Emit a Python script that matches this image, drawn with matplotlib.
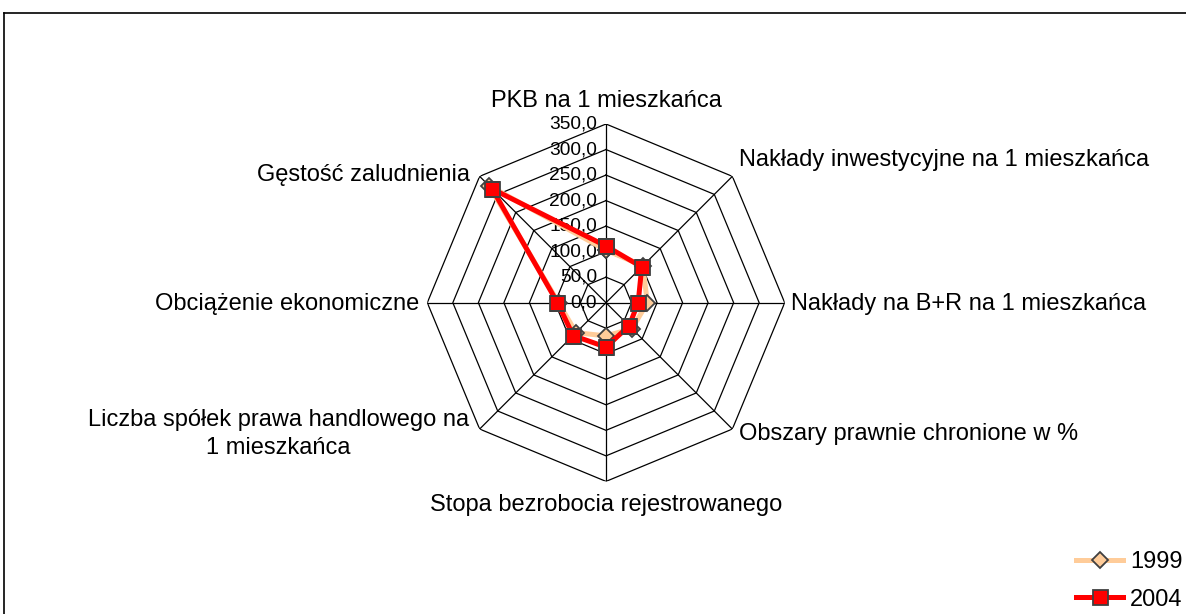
import numpy as np
import matplotlib
matplotlib.use("Agg")
import matplotlib.pyplot as plt
from matplotlib.lines import Line2D

plt.rcParams['font.family'] = ['Liberation Sans', 'DejaVu Sans']

categories = [
    "PKB na 1 mieszkańca",
    "Nakłady inwestycyjne na 1 mieszkańca",
    "Nakłady na B+R na 1 mieszkańca",
    "Obszary prawnie chronione w %",
    "Stopa bezrobocia rejestrowanego",
    "Liczba spółek prawa handlowego na\n1 mieszkańca",
    "Obciążenie ekonomiczne",
    "Gęstość zaludnienia",
]
v1999 = [103, 102, 81, 72, 65, 83, 93, 324]
v2004 = [111, 99, 63, 64, 87, 91, 95, 315]
rticks = [0, 50, 100, 150, 200, 250, 300, 350]
rtick_labels = ["0,0", "50,0", "100,0", "150,0", "200,0", "250,0", "300,0", "350,0"]

W, H = 1186, 614
fig = plt.figure(figsize=(W / 100, H / 100), dpi=100)
fig.patch.set_facecolor('white')

# outer frame (top and left edges visible)
fig.add_artist(Line2D([3.5 / W, 1.0], [1 - 12.5 / H, 1 - 12.5 / H], color='black', lw=1.2,
                      transform=fig.transFigure))
fig.add_artist(Line2D([3.5 / W, 3.5 / W], [0, 1 - 12.5 / H], color='black', lw=1.2,
                      transform=fig.transFigure))

cx, cy, R = 606, 302.7, 178.7
ax = fig.add_axes([(cx - R) / W, (H - cy - R) / H, 2 * R / W, 2 * R / H], projection='polar')
ax.set_theta_offset(np.pi / 2)
ax.set_theta_direction(-1)
ax.set_ylim(0, 350)
ax.grid(False)
ax.spines['polar'].set_visible(False)
ax.set_xticks([])
ax.set_yticks([])
ax.patch.set_alpha(0)

n = len(categories)
ang = np.linspace(0, 2 * np.pi, n, endpoint=False)
ang_c = np.concatenate([ang, ang[:1]])

for r in rticks[1:]:
    ax.plot(ang_c, [r] * (n + 1), color='black', lw=0.9, zorder=1)
for a in ang:
    ax.plot([a, a], [0, 350], color='black', lw=0.9, zorder=1)

for r, lab in zip(rticks, rtick_labels):
    ax.annotate(lab, xy=(0, r), xytext=(-9, 0), textcoords='offset pixels',
                ha='right', va='center', fontsize=13.8, zorder=2)

d1 = np.concatenate([v1999, v1999[:1]])
d2 = np.concatenate([v2004, v2004[:1]])
ax.plot(ang_c, d1, color='#FFCC99', lw=3.6, marker='D', ms=8.5, mfc='#FFCC99',
        mec='#404040', mew=1.3, zorder=3, label='1999')
ax.plot(ang_c, d2, color='#FF0000', lw=3.6, marker='s', ms=10.8, mfc='#FF0000',
        mec='#404040', mew=1.3, zorder=4, label='2004')

offsets = [(0, 12), (7, 16), (6, -1), (7, -5), (0, -13), (-11, -5), (-8, -1), (-10, 1)]
aligns = [('center', 'bottom'), ('left', 'center'), ('left', 'center'), ('left', 'center'),
          ('center', 'top'), ('right', 'center'), ('right', 'center'), ('right', 'center')]
for a, lab, off, (ha, va) in zip(ang, categories, offsets, aligns):
    ax.annotate(lab, xy=(a, 350), xytext=off, textcoords='offset pixels',
                ha=ha, va=va, fontsize=17, multialignment='center', linespacing=1.32)

leg = fig.legend(loc='upper left', bbox_to_anchor=(1076 / W, 1 - 551 / H),
                 frameon=False, fontsize=17, handlelength=2.0, handletextpad=0.3,
                 labelspacing=0.66, borderpad=0, borderaxespad=0)

fig.savefig('out.png', dpi=100, facecolor='white')
